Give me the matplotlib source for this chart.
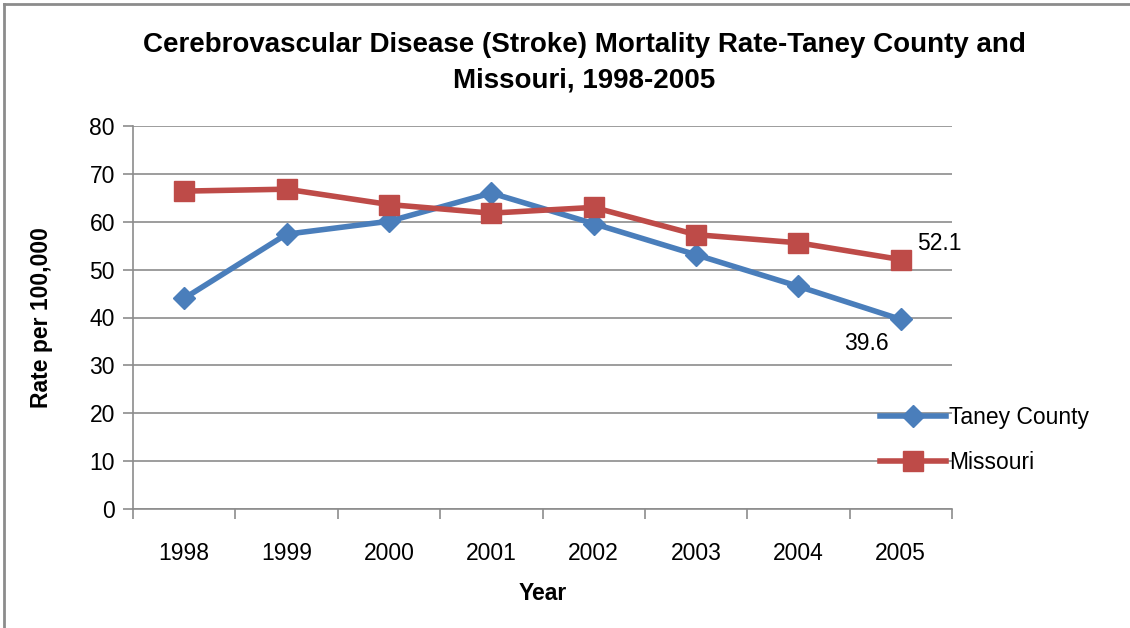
import numpy as np
import matplotlib
matplotlib.use("Agg")
import matplotlib.pyplot as plt
from matplotlib.lines import Line2D

plt.rcParams['font.family'] = ['Liberation Sans', 'DejaVu Sans']

years = ["1998", "1999", "2000", "2001", "2002", "2003", "2004", "2005"]
taney = [44.0, 57.4, 60.1, 66.0, 59.6, 53.1, 46.5, 39.6]
missouri = [66.4, 66.8, 63.6, 61.8, 63.0, 57.3, 55.6, 52.1]

blue = "#4a7ebb"
red = "#be4b48"
grid_c = "#8c8c8c"

fig = plt.figure(figsize=(11.3, 6.28), dpi=100)
ax = fig.add_axes([133/1130, 1-509/628, 819/1130, 383/628])

x = np.arange(len(years))
ax.plot(x, taney, color=blue, lw=4, marker="D", ms=11, label="Taney County")
ax.plot(x, missouri, color=red, lw=4, marker="s", ms=14, label="Missouri")

ax.annotate(f"{missouri[-1]:.1f}", (x[-1], missouri[-1]), xytext=(12, 3),
            textcoords="offset points", fontsize=16.5, va="bottom", ha="left")
ax.annotate(f"{taney[-1]:.1f}", (x[-1], taney[-1]), xytext=(-9, -9),
            textcoords="offset points", fontsize=16.5, va="top", ha="right")

ax.set_xlim(-0.5, len(years) - 0.5)
ax.set_ylim(0, 80)
ax.set_yticks(np.arange(0, 81, 10))
ax.set_xticks(x)
ax.set_xticklabels(years)
ax.set_xticks(np.arange(-0.5, len(years)), minor=True)
ax.tick_params(axis="x", which="major", length=0, pad=24, labelsize=16.5)
ax.tick_params(axis="x", which="minor", length=7, color=grid_c, width=1.2)
ax.tick_params(axis="y", length=7, color=grid_c, width=1.2, labelsize=16.5, pad=6)
ax.yaxis.grid(True, color=grid_c, lw=1.2)
ax.set_axisbelow(True)
for s in ["top", "right"]:
    ax.spines[s].set_visible(False)
for s in ["left", "bottom"]:
    ax.spines[s].set_color(grid_c)
    ax.spines[s].set_linewidth(1.2)

ax.set_xlabel("Year", fontsize=16.5, fontweight="bold", labelpad=12)
ax.set_ylabel("Rate per 100,000", fontsize=16.5, fontweight="bold", labelpad=26)

fig.text(584/1130, 1-63/628, "Cerebrovascular Disease (Stroke) Mortality Rate-Taney County and\nMissouri, 1998-2005",
         ha="center", va="center", fontsize=20, fontweight="bold", linespacing=1.45)

ax.legend(loc="center left", bbox_to_anchor=(880/1130, 1-440/628), bbox_transform=fig.transFigure,
          frameon=False, fontsize=16.5, handlelength=2.9, handletextpad=0.1, labelspacing=0.95,
          borderaxespad=0, borderpad=0)

fig.add_artist(Line2D([4/1130, 4/1130], [0, 1-4/628], transform=fig.transFigure, color="#8c8c8c", lw=2))
fig.add_artist(Line2D([4/1130, 1], [1-4/628, 1-4/628], transform=fig.transFigure, color="#8c8c8c", lw=2))
fig.savefig("out.png", dpi=100)
